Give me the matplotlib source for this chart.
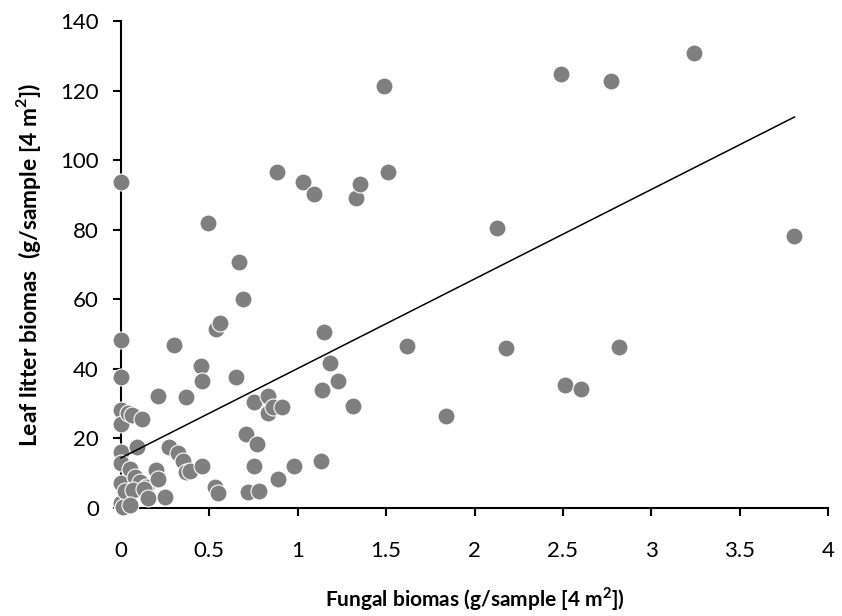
import matplotlib
matplotlib.use("Agg")
import matplotlib.pyplot as plt

# Data
fungal = [0, 0, 0, 0, 0, 0, 0, 0, 0, 0.01,
          0.04, 0.06, 0.12, 0.09, 0.05, 0.08, 0.11, 0.14, 0.02, 0.07,
          0.13, 0.15, 0.05, 0.20, 0.21, 0.25, 0.21, 0.30, 0.27, 0.32,
          0.35, 0.37, 0.39, 0.37, 0.45, 0.46, 0.46, 0.49, 0.53, 0.55,
          0.54, 0.56, 0.65, 0.67, 0.69, 0.71, 0.77, 0.75, 0.72, 0.78,
          0.75, 0.83, 0.83, 0.86, 0.91, 0.89, 0.88, 0.98, 1.03, 1.09,
          1.13, 1.14, 1.15, 1.18, 1.23, 1.31, 1.33, 1.35, 1.49, 1.51,
          1.62, 1.84, 2.13, 2.18, 2.49, 2.51, 2.60, 2.77, 2.82, 3.24,
          3.81]
litter = [93.7, 48.3, 37.8, 28.3, 24.2, 16.2, 12.8, 7.2, 1.4, 0.3,
          27.2, 26.6, 25.7, 17.6, 11.2, 8.8, 7.4, 6.0, 4.8, 5.3,
          5.4, 3.0, 0.8, 10.9, 8.3, 3.1, 32.3, 46.8, 17.4, 15.7,
          13.6, 10.3, 10.6, 31.8, 40.8, 36.6, 12.2, 81.8, 6.0, 4.4,
          51.5, 53.3, 37.6, 70.6, 60.2, 21.3, 18.4, 12.2, 4.5, 5.0,
          30.6, 32.3, 27.3, 28.9, 28.9, 8.2, 96.6, 12.0, 93.8, 90.4,
          13.5, 34.0, 50.6, 41.8, 36.4, 29.4, 89.2, 93.1, 121.3, 96.7,
          46.6, 26.5, 80.5, 46.1, 124.7, 35.5, 34.3, 122.7, 46.4, 130.9,
          78.3]

trend_x = [0.0, 3.81]
trend_y = [14.4, 112.4]

x_ticks = [0, 0.5, 1, 1.5, 2, 2.5, 3, 3.5, 4]
x_tick_labels = ["0", "0.5", "1", "1.5", "2", "2.5", "3", "3.5", "4"]
y_ticks = [0, 20, 40, 60, 80, 100, 120, 140]

plt.rcParams['font.family'] = ['Lato', 'DejaVu Sans']

fig = plt.figure(figsize=(8.42, 6.16), dpi=100)
ax = fig.add_axes([0.1437, 0.1753, 0.8397, 0.7906])

ax.scatter(fungal, litter, s=150, c='#7f7f7f', edgecolors='white',
           linewidths=0.8, zorder=3, clip_on=False)
ax.plot(trend_x, trend_y, color='black', lw=1.1, zorder=4, clip_on=False)

ax.set_xlim(0, 4)
ax.set_ylim(0, 140)
ax.set_xticks(x_ticks)
ax.set_xticklabels(x_tick_labels)
ax.set_yticks(y_ticks)

for side in ['top', 'right']:
    ax.spines[side].set_visible(False)
for side in ['left', 'bottom']:
    ax.spines[side].set_linewidth(1.5)
    ax.spines[side].set_color('black')
    ax.spines[side].set_zorder(2)

ax.tick_params(axis='both', direction='out', length=6, width=1.5,
               labelsize=16, colors='black')
ax.tick_params(axis='x', pad=18)
ax.tick_params(axis='y', pad=10)

ax.set_xlabel("Fungal biomas (g/sample [4 m$^{\\mathregular{2}}$])",
              fontsize=15, fontweight='bold', labelpad=17)
ax.set_ylabel("Leaf litter biomas  (g/sample [4 m$^{\\mathregular{2}}$])",
              fontsize=16.5, fontweight='bold', labelpad=12)

fig.savefig("out.png", dpi=100)
